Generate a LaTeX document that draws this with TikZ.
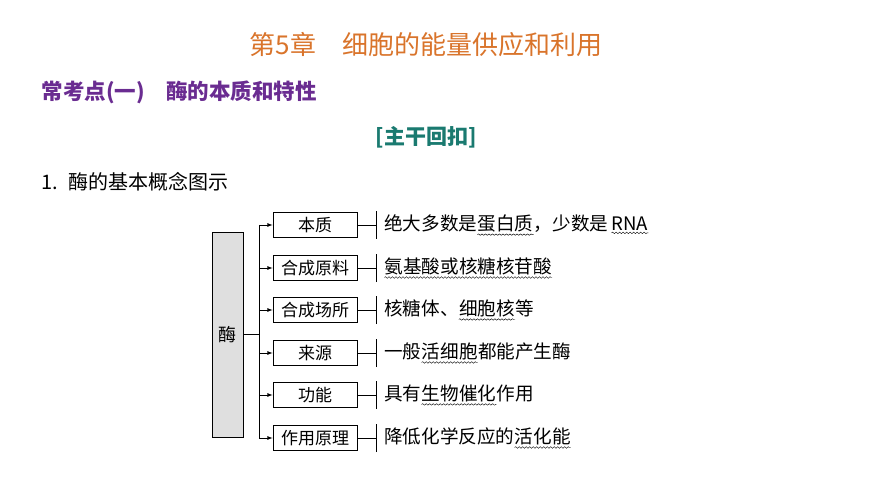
\documentclass[tikz,border=0pt]{standalone}
\usepackage{fontspec}
\setmainfont{Liberation Serif}
\newfontfamily\cjk{Noto Sans CJK SC}
\usetikzlibrary{decorations.pathmorphing}
\definecolor{titleor}{RGB}{217,116,43}
\definecolor{headpu}{RGB}{106,44,145}
\definecolor{headte}{RGB}{26,122,112}
\newcommand{\wv}[1]{\tikz[baseline=(w.base)]{\node[inner sep=0pt] (w) {#1};
  \draw[decorate,decoration={snake,amplitude=.8pt,segment length=3.5pt}] ([yshift=-2.5pt]w.south west) -- ([yshift=-2.5pt]w.south east);}}
\tikzset{
  item/.style={draw,thick,minimum width=84pt,minimum height=25pt,inner sep=0pt,font=\cjk\fontsize{17}{17}\selectfont},
  desc/.style={anchor=west,inner sep=0pt,font=\cjk\fontsize{18.6}{18.6}\selectfont},
  arr/.style={thick,-latex}
}
\begin{document}
\begin{tikzpicture}[x=1pt,y=-1pt]
    \useasboundingbox (0,0) rectangle (870,489);
    % headings %
    \node[text=titleor,font=\cjk\fontsize{26}{26}\selectfont] (title) at (426,45) {第5章\quad 细胞的能量供应和利用};
    \node[text=headpu,anchor=west,font=\cjk\bfseries\fontsize{21.5}{21.5}\selectfont] (sec) at (38,92) {常考点(一)\quad 酶的本质和特性};
    \node[text=headte,font=\cjk\bfseries\fontsize{21}{21}\selectfont] (sub) at (426,137) {[主干回扣]};
    \node[anchor=west,font=\cjk\fontsize{20}{20}\selectfont] (cap) at (38,182) {1.\enspace 酶的基本概念图示};

    % concept map %
    \node[draw,thick,fill=gray!25,minimum width=31pt,minimum height=205pt,inner sep=0pt,font=\cjk\fontsize{18}{18}\selectfont] (mei) at (227.5,334.5) {酶};
    \coordinate (top) at (259,225);
    \coordinate (bot) at (259,438);
    \draw[thick] (mei.east) -- (259,334.5);
    \draw[thick] (top) -- (bot);
    \foreach \n/\y/\t/\d in {
        a/225/本质/{绝大多数是\wv{蛋白质}，少数是\,\wv{RNA}},
        b/268/合成原料/{\wv{氨基酸或核糖核苷酸}},
        c/310/合成场所/{核糖体、\wv{细胞核}等},
        d/353/来源/{一般\wv{活细胞}都能产生酶},
        e/395/功能/{具有\wv{生物催化}作用},
        f/438/作用原理/{降低化学反应的\wv{活化能}}} {
      \node[item] (\n) at (315,\y) {\t};
      \draw[arr] (259,\y) -- (\n.west);
      \coordinate (\n t) at (376,\y);
      \draw[thick] (\n.east) -- (\n t);
      \draw[thick] ([yshift=-14pt]\n t) -- ([yshift=14pt]\n t);
      \node[desc] (\n d) at (384,\y) {\d};
    }
\end{tikzpicture}
\end{document}
